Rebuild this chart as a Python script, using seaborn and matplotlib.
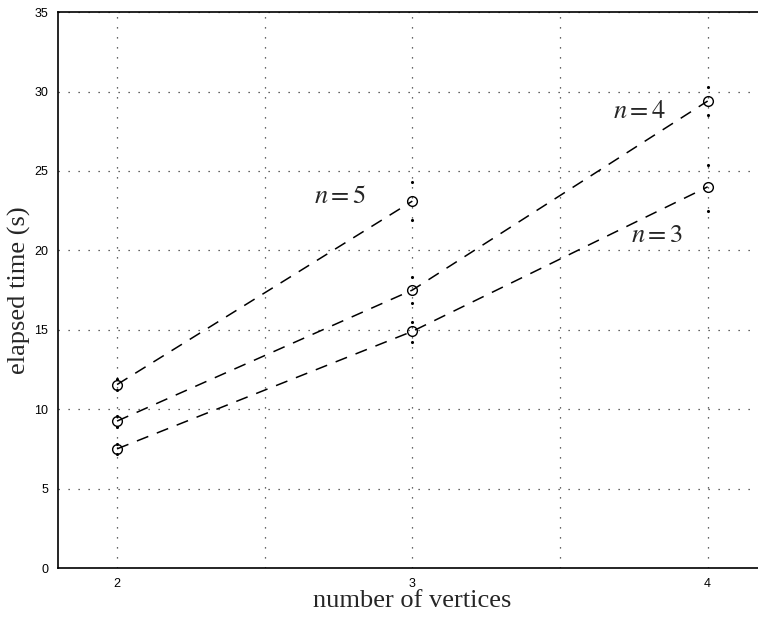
import matplotlib
matplotlib.use("Agg")
import matplotlib.pyplot as plt
import numpy as np
import pandas as pd
import seaborn as sns

# mean elapsed time per number of vertices, for n = 3, 4, 5
vertices = [2, 3, 4]
time_n3 = [7.5, 14.9, 24.0]
time_n4 = [9.25, 17.5, 29.4]
time_n5 = [11.55, 23.1]

# spread dots (low / high) around each mean
low_n3 = [7.2, 14.2, 22.5]
high_n3 = [7.8, 15.5, 25.4]
low_n4 = [8.9, 16.7, 28.5]
high_n4 = [9.6, 18.3, 30.3]
low_n5 = [11.2, 21.9]
high_n5 = [11.9, 24.3]

sns.set_style("white")
plt.rcParams["mathtext.fontset"] = "stix"

fig = plt.figure(figsize=(7.58, 6.17), dpi=100)
ax = fig.add_axes([0.0765, 0.0794, 0.935, 0.901])

series = [
    (vertices, time_n3, low_n3, high_n3),
    (vertices, time_n4, low_n4, high_n4),
    (vertices[:2], time_n5, low_n5, high_n5),
]
for xs, mean, lo, hi in series:
    df = pd.DataFrame({"v": xs, "t": mean})
    sns.lineplot(data=df, x="v", y="t", ax=ax, color="black", linestyle=(0, (8, 6)),
                 linewidth=1.1, marker="o", markersize=7, markerfacecolor="none",
                 markeredgecolor="black", markeredgewidth=1.0)
    dots = pd.DataFrame({"v": list(xs) * 2, "t": list(lo) + list(hi)})
    sns.scatterplot(data=dots, x="v", y="t", ax=ax, color="black", s=5, linewidth=0)

ax.text(2.755, 23.4, r"$n=5$", fontsize=19, ha="center", va="center")
ax.text(3.77, 28.8, r"$n=4$", fontsize=19, ha="center", va="center")
ax.text(3.83, 20.95, r"$n=3$", fontsize=19, ha="center", va="center")

ax.set_xlim(1.8, 4.2)
ax.set_ylim(0, 35)
ax.set_xticks([2, 2.5, 3, 3.5, 4])
ax.set_xticklabels(["2", "", "3", "", "4"])
ax.set_yticks(np.arange(0, 36, 5))
ax.tick_params(direction="in", length=5, width=1, labelsize=9, colors="black", pad=7)
for lab in ax.get_xticklabels() + ax.get_yticklabels():
    lab.set_family("Liberation Sans")

ax.grid(True, color="#333333", linestyle=(0, (1, 7)), linewidth=0.9)
for side in ["left", "bottom", "top"]:
    ax.spines[side].set_color("black")
    ax.spines[side].set_linewidth(1.2)
ax.spines["right"].set_visible(False)

ax.set_xlabel("number of vertices", fontsize=19, family="Liberation Serif", labelpad=0)
ax.set_ylabel("elapsed time (s)", fontsize=19, family="Liberation Serif", labelpad=2)

fig.savefig("out.png", dpi=100)
